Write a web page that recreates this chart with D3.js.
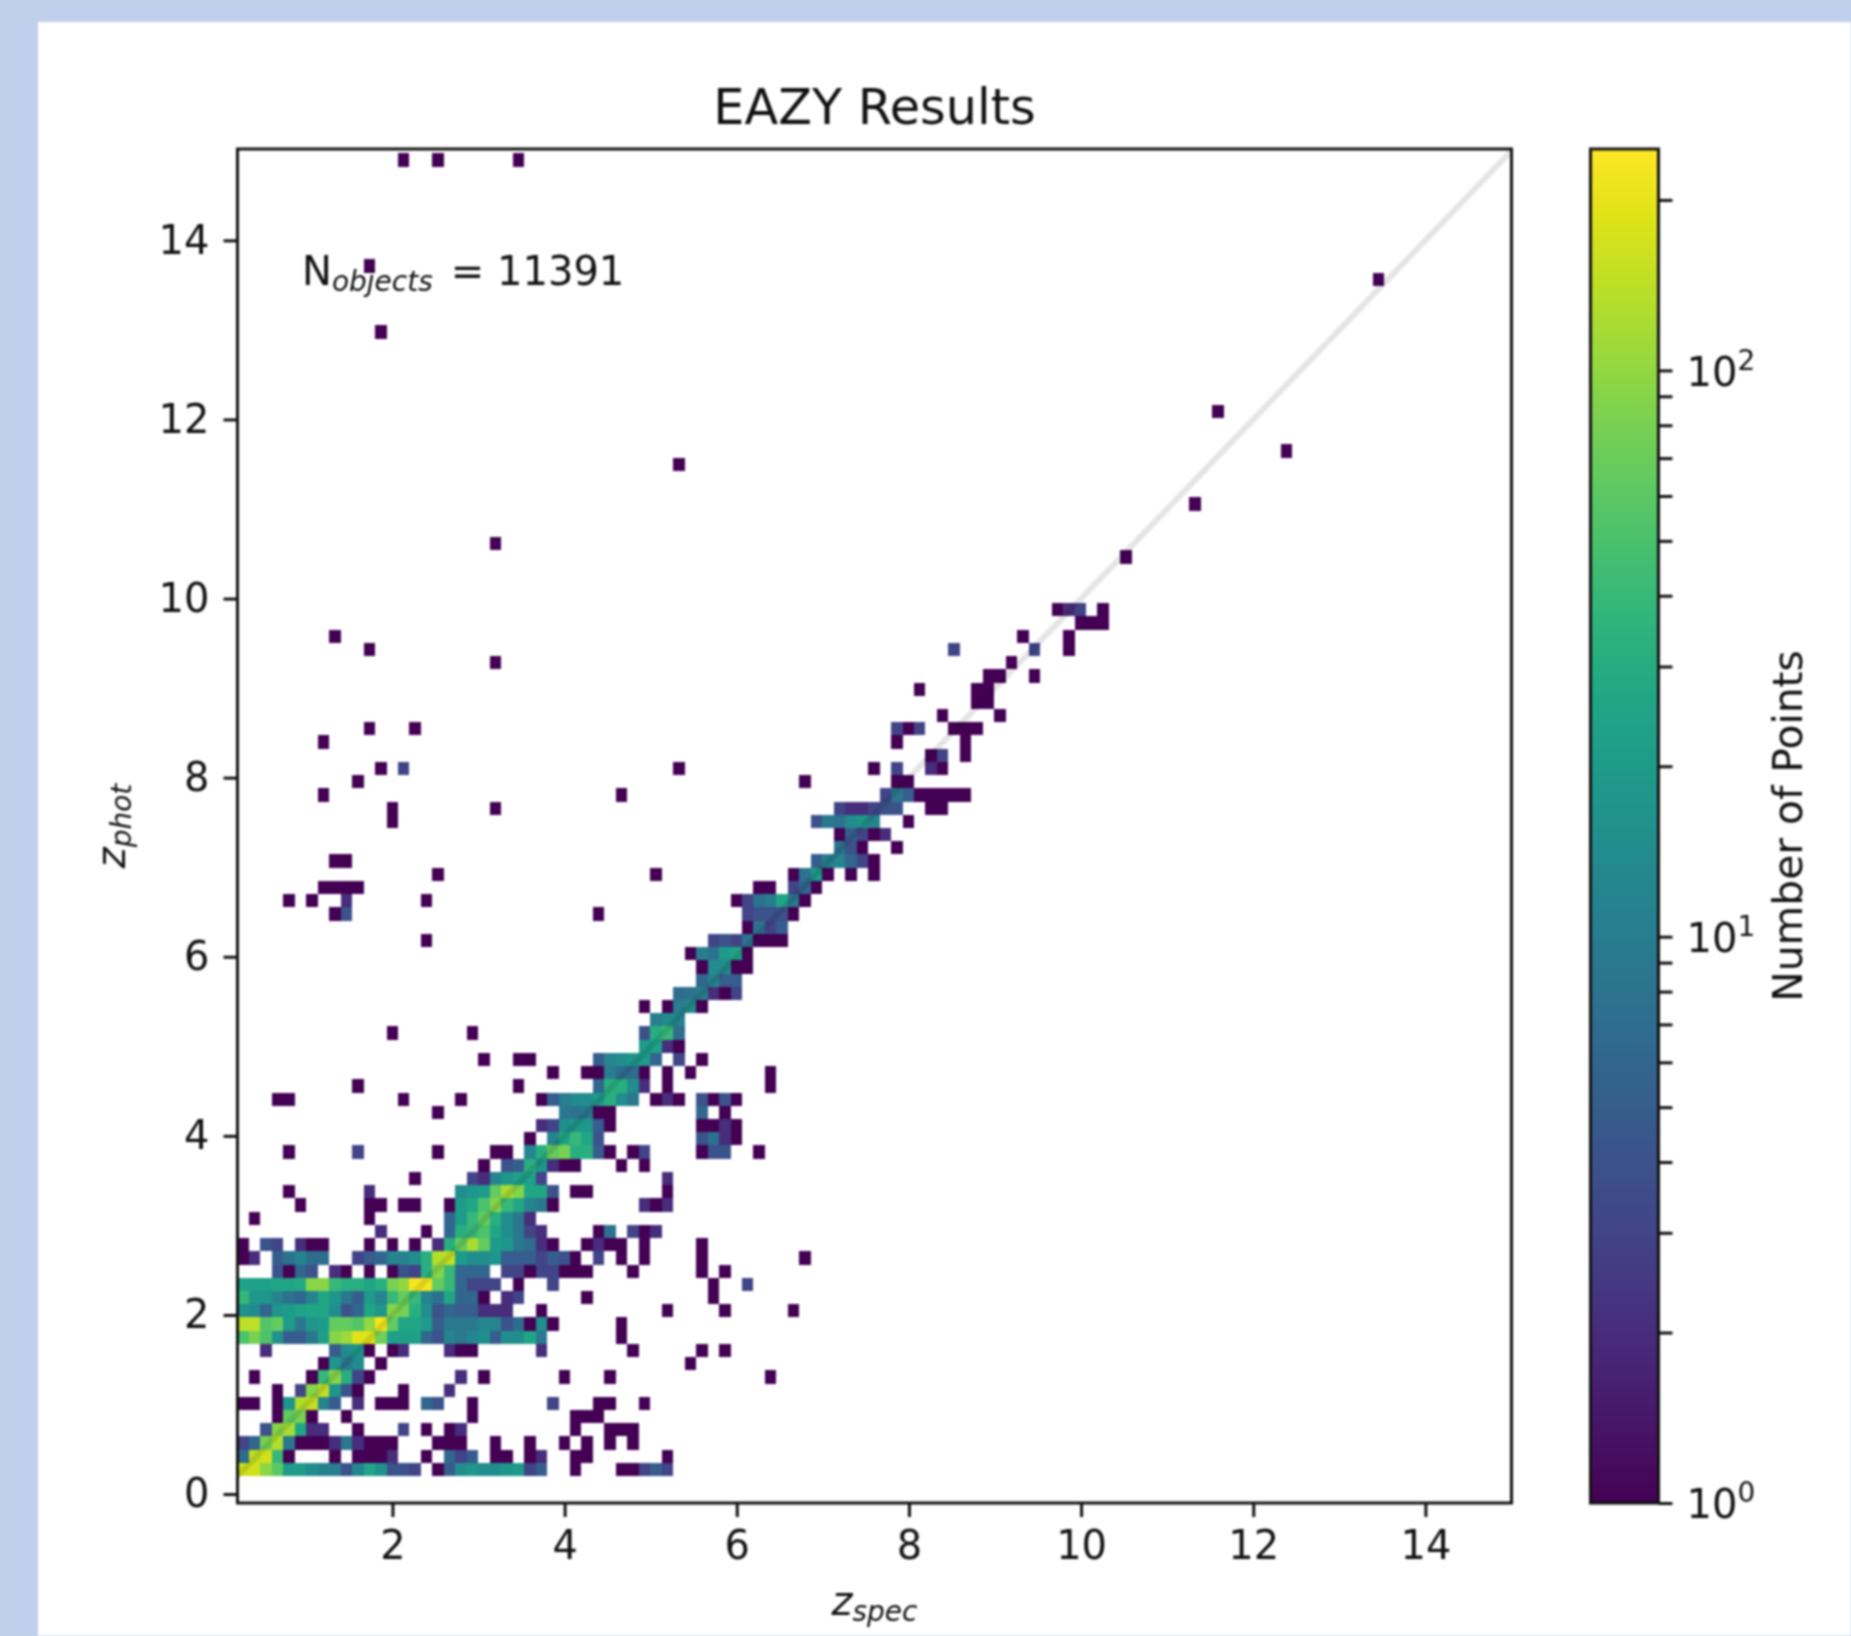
<!DOCTYPE html>
<html>
<head>
<meta charset="utf-8">
<script src="https://cdn.jsdelivr.net/npm/d3@7"></script>
<style>
html, body { margin: 0; padding: 0; background: #bfcfec; overflow: hidden; }
svg { display: block; filter: blur(0.9px); }
text { font-family: "DejaVu Sans", sans-serif; fill: #111; }
</style>
</head>
<body>
<script>
// hist2d setup, bin indices below count from these
var xRange = [0.2, 15],
    yRange = [-0.1, 15.02];
var xBinStart = 0.2, xBinWidth = 0.1332,
    yBinStart = 0.2, yBinWidth = 0.1477;

var xTicks = [2, 4, 6, 8, 10, 12, 14];
var yTicks = [0, 2, 4, 6, 8, 10, 12, 14];
var colorDomain = [1, 246];
var colorMajor = [1, 10, 100];
var colorMinor = [2, 3, 4, 5, 6, 7, 8, 9, 20, 30, 40, 50, 60, 70, 80, 90, 200];
var diagonal = [0.2, 15];

var titleText = "EAZY Results";
var nObjects = 11391;

// [phot bin, first spec bin, counts...], 0 = empty
var binRuns = [
  [0, 0, [165,165,95,60,20,20,14,11,10,4,12,26,16,4,4,3,0,1,5,15,18,15,15,18,20,3,5]], [0, 29, [1]], [0, 33, [1,1,3,5,3]],
  [1, 0, [7,150,165,40,1,0,0,0,1,0,1,1,1,2,0,0,1,0,6,3,5,0,1,1,0,1,2,0,0,1,1,0,0,0,0,0,0,1]],
  [2, 0, [3,6,80,130,9,1,1,1,2,9,2,1,1,1,0,0,0,1,1,1,0,0,1,0,0,1,0,0,1,0,1,0,1,0,1]],
  [3, 2, [4,90,120,26,2,2,0,0,1,0,0,0,3,0,1,0,1,2]], [3, 29, [1]], [3, 32, [1,1,1]],
  [4, 3, [1,65,80,1]], [4, 9, [1]], [4, 20, [1]], [4, 29, [1,1,1]],
  [5, 0, [1,1,0,1,18,130,150,12,5,0,2,0,1,1,1,0,6,4,0,0,1,0,0,0,0,0,0,3,0,0,0,1,1,0,0,1]],
  [6, 3, [1,0,3,90,150,18,4,1]], [6, 14, [1]], [6, 18, [2]],
  [7, 1, [1]], [7, 6, [1,40,90,32,3,1]], [7, 19, [2,0,1]], [7, 28, [1]], [7, 32, [1]], [7, 46, [1]],
  [8, 7, [1,18,9,14]], [8, 12, [1]], [8, 39, [1]],
  [9, 2, [2]], [9, 8, [5,14,18,1,0,1,2]], [9, 18, [2,1,1]], [9, 26, [2]], [9, 34, [1]], [9, 40, [1]], [9, 42, [1]],
  [10, 0, [52,82,52,16,5,5,9,22,90,110,190,190,75,22,22,22,6,4,12,9,12,15,5,15,15,26,9]], [10, 33, [1]],
  [11, 0, [142,142,55,65,20,9,18,20,65,65,55,100,220,65,26,26,20,5,9,9,9,12,12,4,7,1,15,1]], [11, 33, [1]],
  [12, 0, [16,14,6,18,20,24,26,26,15,4,6,26,18,90,80,32,15,4,6,5,5,2,2,2,0,0,1]], [12, 37, [1]], [12, 42, [1]], [12, 48, [1]],
  [13, 0, [38,18,18,12,8,6,12,26,18,9,5,20,12,40,65,40,12,8,26,6,6,1,0,2,3]], [13, 30, [1]], [13, 41, [1]],
  [14, 0, [23,23,23,26,26,28,92,92,40,32,32,26,32,80,100,235,225,65,40,6,3,3,3,0,1]], [14, 27, [3]], [14, 41, [1]], [14, 44, [3]],
  [15, 3, [4,1,6,4,0,2,1,0,1,0,1,4,3,32,90,40,6,6,6,0,3,3,1,3,3,1,1,1]], [15, 34, [1]], [15, 40, [1]], [15, 42, [1]],
  [16, 0, [1,2,0,5,8,12,7,7,0,0,3,5,6,12,12,15,32,130,150,20,15,15,18,5,5,5,3,5,4,1,0,3,0,1,0,1]], [16, 40, [1]], [16, 49, [1]],
  [17, 0, [1,0,4,3,0,2,1,1,0,0,0,1,0,1,0,1,0,2,32,65,120,65,20,18,9,7,2,1,0,0,1,2,1,1,0,1]], [17, 40, [1]],
  [18, 12, [2]], [18, 16, [1]], [18, 18, [6,32,40,52,26,15,9,3,2]], [18, 31, [1,8,0,3,1,2]],
  [19, 1, [1]], [19, 11, [1]], [19, 18, [6,20,40,65,32,15,9,2]],
  [20, 5, [1]], [20, 11, [1,1]], [20, 14, [1,1]], [20, 18, [1,20,26,52,90,40,26,12,9,1]], [20, 35, [2,1,2]],
  [21, 4, [1]], [21, 11, [2]], [21, 19, [15,18,20,65,120,90,26,26,4]], [21, 29, [1,1]], [21, 37, [1]],
  [22, 15, [1]], [22, 20, [3,2,12,18,23,23,3]], [22, 37, [2]],
  [23, 21, [1,0,4,5,32,18,2,1,1]], [23, 33, [1]], [23, 35, [1]],
  [24, 4, [1]], [24, 10, [3]], [24, 17, [1]], [24, 22, [1,1,0,12,32,65,80,32,32,5,1]], [24, 34, [1,3]], [24, 40, [1,4,4]], [24, 45, [1]],
  [25, 25, [1,0,12,26,40,26,4]], [25, 40, [4,8,2,1]],
  [26, 26, [2,3,15,18,18,5,1]], [26, 40, [1,1,2,1]],
  [27, 17, [1]], [27, 28, [9,8,9,1,1]], [27, 40, [6,0,1]],
  [28, 3, [1,1]], [28, 14, [1]], [28, 19, [1]], [28, 26, [1,5,10,14,15,20,32,15,9,0,1,2,1]], [28, 40, [4,1,4,1]],
  [29, 10, [1]], [29, 24, [1]], [29, 31, [6,32,32,15,2]], [29, 37, [1]], [29, 46, [1]],
  [30, 27, [1]], [30, 30, [1,1,10,7,7,1]], [30, 37, [1]], [30, 39, [1]], [30, 46, [1]],
  [31, 21, [1]], [31, 24, [1,1]], [31, 31, [5,12,15,18,20,6,0,3]], [31, 40, [1]],
  [32, 35, [20,23,2,1]],
  [33, 13, [1]], [33, 20, [1]], [33, 35, [4,32,40,7]],
  [34, 36, [10,14,12]],
  [35, 35, [1,0,1,10,14,1]],
  [36, 38, [7,8,10,2,1,3]],
  [37, 40, [6,12,5,5]],
  [38, 40, [1,14,14,1,1]],
  [39, 39, [1,10,8,20,25,1]],
  [40, 16, [1]], [40, 41, [3,4,3,8,1,1,1]],
  [41, 44, [1,8,3,5]],
  [42, 8, [1,4]], [42, 31, [1]], [42, 44, [3,4,4,4,1]],
  [43, 4, [1]], [43, 6, [1]], [43, 9, [2]], [43, 16, [1]], [43, 43, [1,3,8,10,25,9,1]],
  [44, 7, [1,1,1,1]], [44, 45, [1,1,0,3,6,1]],
  [45, 17, [1]], [45, 36, [1]], [45, 48, [1,8,20,1,0,1,0,1]],
  [46, 8, [1,1]], [46, 50, [5,10,12,6,3,1]],
  [47, 52, [8,4,1,0,0,1]],
  [48, 52, [1,5,3,1,2]],
  [49, 13, [1]], [49, 50, [4,9,8,14,18,12,0,0,1]],
  [50, 13, [1]], [50, 22, [1]], [50, 52, [3,2,2,3,4,4,0,0,1,1]],
  [51, 7, [1]], [51, 33, [1]], [51, 56, [3,9,5,1,1,1,1,1]],
  [52, 10, [1]], [52, 49, [1]], [52, 57, [1,1]],
  [53, 12, [1]], [53, 14, [3]], [53, 38, [1]], [53, 55, [1,0,3,0,0,2,1]],
  [54, 60, [1,3,0,1]],
  [55, 7, [1]], [55, 57, [1]], [55, 63, [1]],
  [56, 11, [1]], [56, 15, [1]], [56, 57, [3,1,3,0,0,1,1,1]],
  [57, 61, [1]], [57, 66, [1]],
  [58, 64, [1,1]],
  [59, 59, [1]], [59, 64, [1,1]],
  [60, 65, [1,1]], [60, 69, [1]],
  [61, 22, [1]], [61, 67, [1]],
  [62, 11, [1]], [62, 62, [3]], [62, 69, [3]], [62, 72, [1]],
  [63, 8, [1]], [63, 68, [1]], [63, 72, [1]],
  [64, 73, [1,1,1]],
  [65, 71, [1,2,3,0,1]],
  [69, 77, [1]],
  [70, 22, [1]],
  [73, 83, [1]],
  [76, 38, [1]],
  [77, 91, [1]],
  [80, 85, [1]],
  [86, 12, [1]],
  [90, 99, [1]],
  [91, 11, [1]],
  [99, 14, [1]], [99, 17, [1]], [99, 24, [1]]
];

// expand runs to one record per filled cell
var cells = [];
binRuns.forEach(function (run) {
    run[2].forEach(function (n, k) {
        if (n > 0) cells.push({ i: run[1] + k, j: run[0], n: n });
    });
});

var width = 1851, height = 1636;
var plot = { left: 237.5, right: 1511.5, top: 149, bottom: 1503 };
var bar = { left: 1590.5, right: 1658.5 };
var tickLen = 14, tickPad = 14, lineW = 3, ink = "#111";

var svg = d3.select("body").append("svg")
    .attr("width", width)
    .attr("height", height);

svg.append("rect")
    .attr("width", width).attr("height", height)
    .attr("fill", "#bfcfec");
svg.append("rect")
    .attr("x", 38).attr("y", 22)
    .attr("width", width - 38).attr("height", height - 22)
    .attr("fill", "#fff");

var x = d3.scaleLinear().domain(xRange).range([plot.left, plot.right]);
var y = d3.scaleLinear().domain(yRange).range([plot.bottom, plot.top]);
var c = d3.scaleLog().domain(colorDomain).range([plot.bottom, plot.top]);
var color = d3.scaleSequentialLog(d3.interpolateViridis).domain(colorDomain);

svg.append("clipPath").attr("id", "plotclip")
    .append("rect")
    .attr("x", plot.left).attr("y", plot.top)
    .attr("width", plot.right - plot.left).attr("height", plot.bottom - plot.top);

// Add the histogram cells
svg.append("g")
    .attr("shape-rendering", "crispEdges")
    .selectAll("rect")
    .data(cells)
    .enter().append("rect")
    .attr("x", function (d) { return x(xBinStart + d.i * xBinWidth); })
    .attr("y", function (d) { return y(yBinStart + (d.j + 1) * yBinWidth); })
    .attr("width", function (d) { return x(xBinStart + (d.i + 1) * xBinWidth) - x(xBinStart + d.i * xBinWidth); })
    .attr("height", function (d) { return y(yBinStart + d.j * yBinWidth) - y(yBinStart + (d.j + 1) * yBinWidth); })
    .attr("fill", function (d) { return color(d.n); });

// one-to-one line
svg.append("line")
    .attr("clip-path", "url(#plotclip)")
    .attr("x1", x(diagonal[0])).attr("y1", y(diagonal[0]))
    .attr("x2", x(diagonal[1])).attr("y2", y(diagonal[1]))
    .attr("stroke", "#000")
    .attr("stroke-opacity", 0.1)
    .attr("stroke-width", 6);

function styleAxis(g) {
    g.select(".domain").remove();
    g.selectAll(".tick line").attr("stroke", ink).attr("stroke-width", lineW);
    g.selectAll(".tick text").attr("font-size", 40).attr("fill", ink)
        .attr("font-family", '"DejaVu Sans", sans-serif');
}

svg.append("g")
    .attr("transform", "translate(0," + plot.bottom + ")")
    .call(d3.axisBottom(x).tickValues(xTicks).tickSize(tickLen).tickPadding(tickPad).tickFormat(d3.format("d")))
    .call(styleAxis);

svg.append("g")
    .attr("transform", "translate(" + plot.left + ",0)")
    .call(d3.axisLeft(y).tickValues(yTicks).tickSize(tickLen).tickPadding(tickPad).tickFormat(d3.format("d")))
    .call(styleAxis);

svg.append("rect")
    .attr("x", plot.left).attr("y", plot.top)
    .attr("width", plot.right - plot.left).attr("height", plot.bottom - plot.top)
    .attr("fill", "none")
    .attr("stroke", ink)
    .attr("stroke-width", lineW);

svg.append("text")
    .attr("x", (plot.left + plot.right) / 2).attr("y", 124)
    .attr("text-anchor", "middle")
    .attr("font-size", 49.3)
    .text(titleText);

// N_objects note
var note = svg.append("text").attr("x", 302).attr("y", 285).attr("font-size", 40);
note.append("tspan").text("N");
note.append("tspan").attr("font-size", 28).attr("font-style", "italic").attr("dy", 6).text("objects");
note.append("tspan").attr("dy", -6).attr("dx", 18).text("= " + nObjects);

// axis labels
function subLabel(sel, main, sub) {
    sel.attr("text-anchor", "middle").attr("font-size", 40).attr("font-style", "italic");
    sel.append("tspan").text(main);
    sel.append("tspan").attr("font-size", 28).attr("dy", 6).text(sub);
}
svg.append("text")
    .attr("x", (plot.left + plot.right) / 2).attr("y", 1615)
    .call(subLabel, "z", "spec");
svg.append("text")
    .attr("transform", "translate(125," + (plot.top + plot.bottom) / 2 + ") rotate(-90)")
    .call(subLabel, "z", "phot");

// colorbar
var stops = d3.range(0, 1.0001, 0.05);
var grad = svg.append("linearGradient")
    .attr("id", "viridisbar")
    .attr("x1", 0).attr("y1", 1).attr("x2", 0).attr("y2", 0);
grad.selectAll("stop")
    .data(stops)
    .enter().append("stop")
    .attr("offset", function (d) { return d; })
    .attr("stop-color", function (d) { return d3.interpolateViridis(d); });

svg.append("rect")
    .attr("x", bar.left).attr("y", plot.top)
    .attr("width", bar.right - bar.left).attr("height", plot.bottom - plot.top)
    .attr("fill", "url(#viridisbar)")
    .attr("stroke", ink)
    .attr("stroke-width", lineW);

var barAxis = svg.append("g")
    .attr("transform", "translate(" + bar.right + ",0)")
    .call(d3.axisRight(c).tickValues(colorMajor.concat(colorMinor)).tickSize(tickLen).tickPadding(tickPad).tickFormat(""))
    .call(styleAxis);

barAxis.selectAll(".tick text")
    .filter(function (d) { return colorMajor.indexOf(d) >= 0; })
    .attr("y", 2)
    .each(function (d) {
        var t = d3.select(this);
        t.append("tspan").text("10");
        t.append("tspan").attr("font-size", 28).attr("dy", -16).text(Math.round(Math.log10(d)));
    });

svg.append("text")
    .attr("transform", "translate(1802," + (plot.top + plot.bottom) / 2 + ") rotate(-90)")
    .attr("text-anchor", "middle")
    .attr("font-size", 40.8)
    .text("Number of Points");
</script>
</body>
</html>
